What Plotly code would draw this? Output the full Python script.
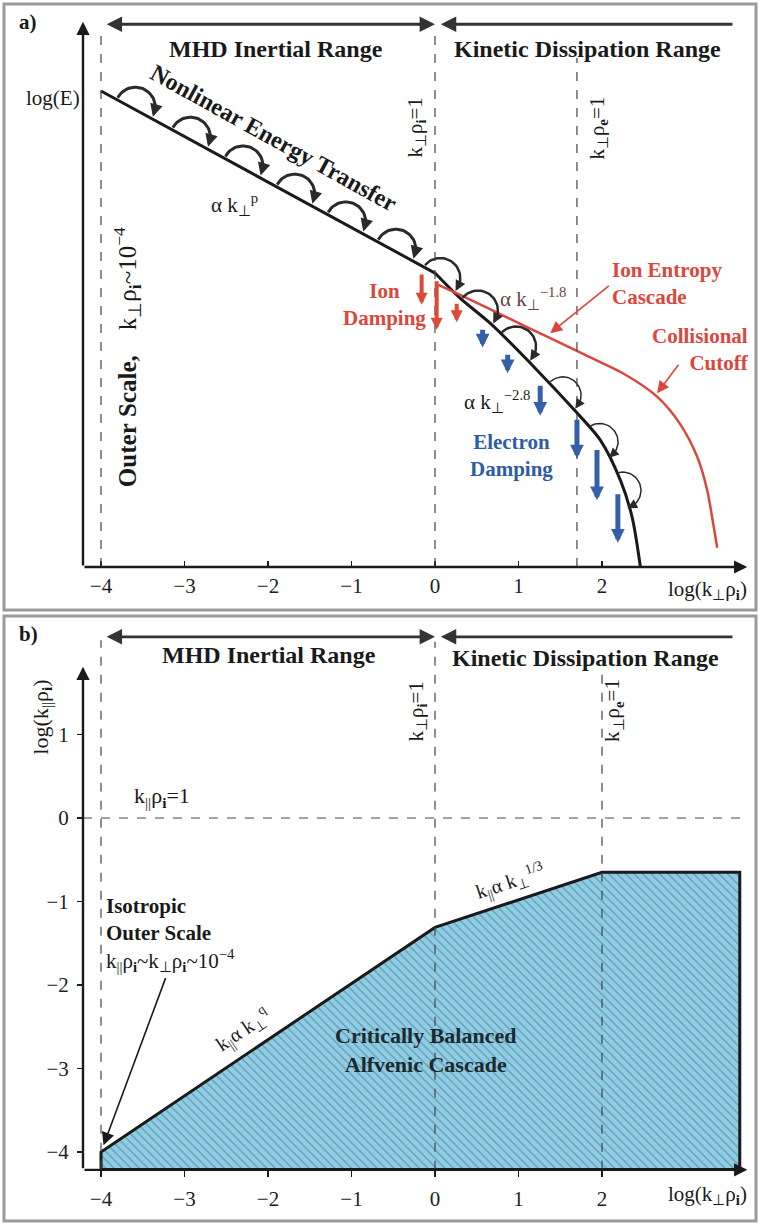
import numpy as np
import plotly.graph_objects as go

W, H = 760, 1224
PX = 83.5  # pixels per decade (both axes, both panels)

# ---------------- data ----------------
xticks = [-4, -3, -2, -1, 0, 1, 2]
yticks_b = [-4, -3, -2, -1, 0, 1]

# panel a: energy spectrum (schematic, log units)
mhd_x = [-4.0, 0.0]
mhd_y = [5.70, 3.52]
kin_x = [0.0, 0.30, 0.66, 1.22, 1.65, 1.98, 2.22, 2.36, 2.46]
kin_y = [3.52, 3.22, 2.92, 2.36, 1.90, 1.52, 1.04, 0.60, 0.0]
ion_x = [0.04, 0.30, 0.86, 1.38, 1.86, 2.25, 2.66, 2.93, 3.14, 3.26, 3.33, 3.38]
ion_y = [3.38, 3.26, 2.99, 2.74, 2.51, 2.32, 2.04, 1.72, 1.32, 0.92, 0.53, 0.23]

# nonlinear transfer hops
hop_start = [-3.80, -3.14, -2.51, -1.89, -1.28, -0.68, -0.12, 0.33, 0.80, 1.38, 1.86, 2.19]
hop_end = [-3.40, -2.72, -2.06, -1.49, -0.86, -0.28, 0.24, 0.68, 1.19, 1.70, 2.19, 2.42]
hop_width = [3, 3, 3, 3, 3, 3, 2.5, 2.5, 2.5, 1.5, 1.5, 1.5]

# damping arrows
ion_damp_x = [-0.16, 0.02, 0.26]
ion_damp_top = [3.52, 3.44, 3.17]
ion_damp_bot = [3.14, 2.84, 2.93]
el_damp_x = [0.57, 0.87, 1.26, 1.70, 1.94, 2.19]
el_damp_top = [2.86, 2.56, 2.19, 1.78, 1.42, 0.89]
el_damp_bot = [2.63, 2.32, 1.81, 1.30, 0.80, 0.29]

# panel b: critically balanced cascade region
cb_x = [-4.0, -4.0, 0.0, 2.0, 3.65, 3.65]
cb_y = [-4.21, -4.0, -1.31, -0.65, -0.65, -4.21]

# ---------------- geometry ----------------
XR = [-435 / PX, (W - 435) / PX]
YRA = [(567 - 613) / PX, 567 / PX]
YRB = [(818 - H) / PX, (818 - 613) / PX]
YAX_X = (83 - 435) / PX
XB_AX = -4.214
XTIP = 3.74

FONT = "Liberation Serif"
INK = "#1a1a1a"
RED = "#d9473d"
BLUE = "#2f5ca6"
NB = "\u00a0"

fig = go.Figure()

def line_trace(x, y, ax, color, width, shape="linear"):
    fig.add_trace(go.Scatter(x=x, y=y, mode="lines", xaxis=ax[0], yaxis=ax[1],
                             line=dict(color=color, width=width, shape=shape, smoothing=0.8),
                             hoverinfo="skip", showlegend=False))

A = ("x", "y")
B = ("x2", "y2")

# spectrum
line_trace(mhd_x, mhd_y, A, INK, 3)
line_trace(kin_x, kin_y, A, INK, 3, "spline")
line_trace(ion_x, ion_y, A, RED, 2.5, "spline")

annots = []
shapes = []

def arrow(xh, yh, xt, yt, ax, color, width, size=1.0, head=2, side="end"):
    annots.append(dict(x=xh, y=yh, ax=xt, ay=yt, xref=ax[0], yref=ax[1],
                       axref=ax[0], ayref=ax[1], text="", showarrow=True,
                       arrowhead=head, arrowsize=size, arrowwidth=width,
                       arrowcolor=color, arrowside=side, standoff=0, startstandoff=0))

def text(x, y, s, ax, size=20, color=INK, angle=0, xanchor="center", align="center"):
    annots.append(dict(x=x, y=y, xref=ax[0], yref=ax[1], text=s, showarrow=False,
                       font=dict(family=FONT, size=size, color=color), textangle=angle,
                       xanchor=xanchor, align=align, yanchor="middle"))

# hop arcs (semicircles above the spectrum, ending in an arrow head)
curve_x = mhd_x + kin_x[1:]
curve_y = mhd_y + kin_y[1:]
gap = 0.03
for w in sorted(set(hop_width)):
    xs, ys = [], []
    r = 0.24 if w >= 2.5 else 0.22
    for s, e, hw in zip(hop_start, hop_end, hop_width):
        if hw != w:
            continue
        p0 = np.array([s, np.interp(s, curve_x, curve_y) + gap])
        tgt = np.array([e, np.interp(e, curve_x, curve_y) + gap])
        u = (tgt - p0) / np.hypot(*(tgt - p0))
        p1 = p0 + 2 * r * u
        m = (p0 + p1) / 2
        d = (p1 - p0) / 2
        n = np.array([-u[1], u[0]])
        t = np.linspace(0, np.pi * 0.86, 30)
        pts = m[None, :] - np.cos(t)[:, None] * d[None, :] + np.sin(t)[:, None] * r * n[None, :]
        xs += list(pts[:, 0]) + [None]
        ys += list(pts[:, 1]) + [None]
        arrow(p1[0], p1[1], pts[-1, 0], pts[-1, 1], A, "#2a2a2a", w, size=(0.85 if w >= 2.5 else 1.3))
    line_trace(xs, ys, A, "#2a2a2a", w)

# damping arrows
for x, t_, b_ in zip(ion_damp_x, ion_damp_top, ion_damp_bot):
    arrow(x, b_, x, t_, A, "#dc4a3a", 4, size=0.6)
for x, t_, b_ in zip(el_damp_x, el_damp_top, el_damp_bot):
    arrow(x, b_, x, t_, A, "#3560a8", 5, size=0.55)

# panel b region
fig.add_trace(go.Scatter(x=cb_x, y=cb_y, mode="lines", fill="toself", xaxis="x2", yaxis="y2",
                         line=dict(width=0), fillcolor="#8ccbe3",
                         fillpattern=dict(shape="\\", fgcolor="#3b6878", bgcolor="#8fcde4",
                                          size=6, solidity=0.22),
                         hoverinfo="skip", showlegend=False))
line_trace(cb_x + [cb_x[0]], cb_y + [cb_y[0]], B, INK, 3)

# ---------------- axes (drawn as arrows) ----------------
for ax, ytop, ybase in ((A, 6.53, 0.0), (B, 1.81, XB_AX)):
    arrow(YAX_X, ytop, YAX_X, ybase, ax, INK, 2.4, size=1.1)
    arrow(XTIP, ybase, YAX_X, ybase, ax, INK, 2.4, size=1.1)

# dashed guide lines
def dline(x0, y0, x1, y1, ax):
    shapes.append(dict(type="line", x0=x0, y0=y0, x1=x1, y1=y1, xref=ax[0], yref=ax[1],
                       line=dict(color="#444", width=1.2, dash="dash")))

dline(-4, 0, -4, 6.43, A)
dline(0, 0, 0, 6.45, A)
dline(1.7, 0, 1.7, 6.10, A)
dline(-4, XB_AX, -4, 2.13, B)
dline(0, XB_AX, 0, 2.11, B)
dline(2, XB_AX, 2, 1.80, B)
dline(YAX_X, 0, 3.75, 0, B)

# range arrows
for ax, yy in ((A, 6.50), (B, 2.17)):
    arrow(0.0, yy, -3.95, yy, ax, "#333", 2.8, size=1.1, side="end+start")
    arrow(0.07, yy, 3.58, yy, ax, "#333", 2.8, size=1.1)
text(-1.90, 6.20, "<b>MHD Inertial Range</b>", A, 24)
text(1.83, 6.20, "<b>Kinetic Dissipation Range</b>", A, 24)
text(-1.99, 1.95, "<b>MHD Inertial Range</b>", B, 24)
text(1.80, 1.92, "<b>Kinetic Dissipation Range</b>", B, 24)

# ---------------- panel a labels ----------------
text(-4.87, 6.53, "<b>a)</b>", A, 21)
text(-4.58, 5.62, "log(E)", A, 21)
text(3.26, -0.27, "log(k<sub>⊥</sub>ρ<sub><b>i</b></sub>)", A, 21)
text(-0.23, 5.26, "k<sub>⊥</sub>ρ<sub><b>i</b></sub>=1", A, 21, angle=-90)
text(1.95, 5.26, "k<sub>⊥</sub>ρ<sub><b>e</b></sub>=1", A, 21, angle=-90)
text(-3.68, 2.51, "<b>Outer" + NB + "Scale,</b>" + NB * 4 + "k<sub>⊥</sub>ρ<sub><b>i</b></sub>~10<sup>−4</sup>",
     A, 25, angle=-90)
text(-1.93, 5.14, "<b>Nonlinear Energy Transfer</b>", A, 24, angle=29)
text(-2.40, 4.34, "α k<sub>⊥</sub><sup>p</sup>", A, 21)
text(1.17, 3.22, "α k<sub>⊥</sub><sup>−1.8</sup>", A, 21, color="#6a4444")
text(0.74, 1.98, "α k<sub>⊥</sub><sup>−2.8</sup>", A, 21)
text(-0.60, 3.14, "<b>Ion<br>Damping</b>", A, 21, color=RED)
text(2.10, 3.39, "<b>Ion Entropy<br>Cascade</b>", A, 21, color=RED, xanchor="left", align="left")
text(3.79, 2.61, "<b>Collisional<br>Cutoff</b>", A, 21, color=RED, xanchor="right", align="right")
text(0.92, 1.33, "<b>Electron<br>Damping</b>", A, 21, color=BLUE)
arrow(1.38, 2.80, 2.10, 3.38, A, RED, 1.6, size=1.5)
arrow(2.66, 2.08, 2.93, 2.44, A, RED, 1.6, size=1.5)

# ---------------- panel b labels ----------------
text(-4.87, 2.20, "<b>b)</b>", B, 21)
text(-4.71, 1.21, "log(k<sub>||</sub>ρ<sub><b>i</b></sub>)", B, 22, angle=-90)
text(3.26, -4.52, "log(k<sub>⊥</sub>ρ<sub><b>i</b></sub>)", B, 21)
text(-0.22, 1.27, "k<sub>⊥</sub>ρ<sub><b>i</b></sub>=1", B, 21, angle=-90)
text(2.14, 1.29, "k<sub>⊥</sub>ρ<sub><b>e</b></sub>=1", B, 21, angle=-90)
text(-3.27, 0.25, "k<sub>||</sub>ρ<sub><b>i</b></sub>=1", B, 22)
text(-3.96, -1.40, "<b>Isotropic<br>Outer Scale</b><br>k<sub>||</sub>ρ<sub><b>i</b></sub>~k<sub>⊥</sub>ρ<sub><b>i</b></sub>~10<sup>−4</sup>",
     B, 21, xanchor="left", align="left")
arrow(-3.97, -3.92, -3.22, -1.90, B, INK, 1.6, size=1.6)
text(-2.30, -2.54, "k<sub>||</sub>α k<sub>⊥</sub><sup>q</sup>", B, 20, angle=-34)
text(0.90, -0.77, "k<sub>||</sub>α k<sub>⊥</sub><sup>1/3</sup>", B, 20, angle=-18)
text(-0.11, -2.78, "<b>Critically Balanced<br>Alfvenic Cascade</b>", B, 22, color="#1c2a30")

# panel frames
for top, bot in ((4, 610), (616, 1221)):
    shapes.append(dict(type="rect", xref="paper", yref="paper", x0=4 / W, x1=756 / W,
                       y0=1 - bot / H, y1=1 - top / H, line=dict(color="#9a9a9a", width=3)))

tickfont = dict(family=FONT, size=21, color="#222")
common_x = dict(range=XR, domain=[0, 1], showgrid=False, zeroline=False,
                showline=False, tickvals=xticks, tickfont=tickfont, anchor="free",
                ticklen=6, tickwidth=1.5, tickcolor=INK, ticklabelstandoff=4, fixedrange=True)
fig.update_layout(
    width=W, height=H, margin=dict(l=0, r=0, t=0, b=0),
    paper_bgcolor="white", plot_bgcolor="rgba(0,0,0,0)",
    xaxis=dict(common_x, position=1 - 567 / H, ticks="inside"),
    yaxis=dict(range=YRA, domain=[1 - 613 / H, 1], visible=False, fixedrange=True),
    xaxis2=dict(common_x, position=1 - (818 - XB_AX * PX) / H, ticks="outside"),
    yaxis2=dict(range=YRB, domain=[0, 1 - 613 / H], showgrid=False, zeroline=False,
                showline=False, tickvals=yticks_b, tickfont=tickfont, anchor="free",
                position=83 / W, ticks="outside", ticklen=6, tickwidth=1.5, tickcolor=INK,
                ticklabelstandoff=4, fixedrange=True),
    annotations=annots, shapes=shapes, showlegend=False,
)

fig.write_html("out.html", config={"displayModeBar": False, "staticPlot": True},
               post_script="document.body.style.margin='0px';")
